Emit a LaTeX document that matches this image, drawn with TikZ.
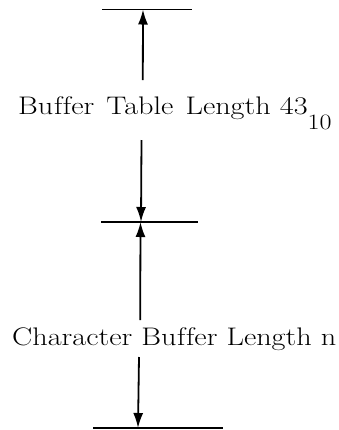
\documentclass[tikz,border=0pt]{standalone}
\usepackage{graphicx}
\usetikzlibrary{arrows.meta}
\tikzset{
  tick/.style={line width=1.4bp, line cap=butt},
  dimarrow/.style={line width=1.8bp, -{Latex[length=15bp,width=10bp]}},
  label/.style={inner sep=0pt, anchor=base west, font=\fontsize{25.5}{28}\selectfont}
}
\begin{document}
\begin{tikzpicture}[x=1bp,y=-1bp]
\useasboundingbox (0,0) rectangle (339,430);
% horizontal limit lines
\coordinate (t1) at (102,9.5);  \coordinate (t2) at (192,9.5);
\coordinate (m1) at (101,222);  \coordinate (m2) at (198,222);
\coordinate (b1) at (93,428);   \coordinate (b2) at (223,428);
\draw[tick] (t1) -- (t2);
\draw[tick] (m1) -- (m2);
\draw[tick] (b1) -- (b2);
% arrow tip points
\coordinate (ttip) at (143,9.5);
\coordinate (mtipu) at (141,222);
\coordinate (mtipl) at (140.5,222);
\coordinate (btip) at (138,428);
% arrow tails
\coordinate (a1) at (142.8,80);
\coordinate (a2) at (141.5,140);
\coordinate (a3) at (140.2,320);
\coordinate (a4) at (139,357);
% labels
\node[label] (lab1) at (18,114) {\scalebox{1.19}[1]{Bu\kern0.02em f\kern0.02em fer\hspace{0.1em} Table\hspace{0.1em} Length 43\raisebox{-15bp}{\fontsize{22}{24}\selectfont 10}}};
\node[label] (lab2) at (12,345) {\scalebox{1.19}[1]{Character Bu\kern0.02em f\kern0.02em fer Length n}};
% arrows
\draw[dimarrow] (a1) -- (ttip);
\draw[dimarrow] (a2) -- (mtipu);
\draw[dimarrow] (a3) -- (mtipl);
\draw[dimarrow] (a4) -- (btip);
\end{tikzpicture}
\end{document}
